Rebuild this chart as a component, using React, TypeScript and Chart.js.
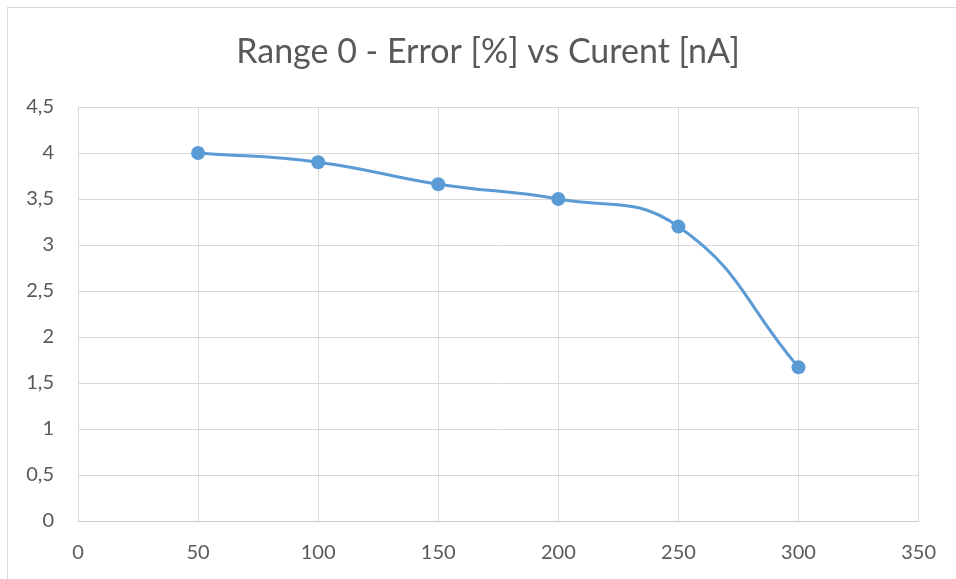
import React, { useEffect, useRef } from "react";
import { Chart, registerables } from "chart.js";

Chart.register(...registerables);

const titleText = "Range 0 - Error [%] vs Curent [nA]";
const currentNA = [50, 100, 150, 200, 250, 300];
const errorPct = [4.0, 3.9, 3.66, 3.5, 3.2, 1.67];
const xTicks = [0, 50, 100, 150, 200, 250, 300, 350];
const yTicks = [0, 0.5, 1, 1.5, 2, 2.5, 3, 3.5, 4, 4.5];

const FONT = "Lato, 'Open Sans', sans-serif";
const TEXT = "#595959";
const GRID = "#d9d9d9";
const BLUE = "#5b9bd5";

export default function App() {
  const ref = useRef<HTMLCanvasElement | null>(null);

  useEffect(() => {
    if (!ref.current) return;
    const chart = new Chart(ref.current, {
      type: "scatter",
      data: {
        datasets: [
          {
            label: "Error",
            data: currentNA.map((x, i) => ({ x, y: errorPct[i] })),
            showLine: true,
            borderColor: BLUE,
            backgroundColor: BLUE,
            borderWidth: 3,
            tension: 0.45,
            pointRadius: 7,
            pointBorderWidth: 0,
            pointBackgroundColor: BLUE,
          },
        ],
      },
      options: {
        responsive: false,
        animation: false,
        devicePixelRatio: 1,
        layout: { padding: { left: 20, right: 0, top: 0, bottom: 0 } },
        plugins: {
          legend: { display: false },
          tooltip: { enabled: false },
          title: {
            display: true,
            text: titleText,
            color: TEXT,
            font: { family: FONT, size: 34, weight: "normal", lineHeight: 1.2 },
            padding: { top: 32, bottom: 34.2 },
          },
        },
        scales: {
          x: {
            type: "linear",
            min: xTicks[0],
            max: xTicks[xTicks.length - 1],
            afterBuildTicks: (s: any) => {
              s.ticks = xTicks.map((v) => ({ value: v }));
            },
            afterFit: (s: any) => {
              s.height = 58;
            },
            ticks: {
              color: TEXT,
              font: { family: FONT, size: 20 },
              padding: 20,
              maxRotation: 0,
              callback: (v: any) => String(v),
            },
            grid: { color: GRID, lineWidth: 1, drawTicks: false },
            border: { display: true, color: "#c9c9c9", width: 1 },
          },
          y: {
            type: "linear",
            min: yTicks[0],
            max: yTicks[yTicks.length - 1],
            afterBuildTicks: (s: any) => {
              s.ticks = yTicks.map((v) => ({ value: v }));
            },
            afterFit: (s: any) => {
              s.width = 58;
            },
            ticks: {
              color: TEXT,
              font: { family: FONT, size: 20 },
              padding: 24,
              callback: (v: any) => String(v).replace(".", ","),
            },
            grid: { color: GRID, lineWidth: 1, drawTicks: false },
            border: { display: false },
          },
          yRight: {
            type: "linear",
            position: "right",
            display: true,
            min: 0,
            max: 1,
            afterFit: (s: any) => {
              s.width = 35;
            },
            ticks: { display: false },
            grid: { display: false, drawTicks: false },
            border: { display: false },
          },
        },
      },
    });
    return () => chart.destroy();
  }, []);

  return (
    <div
      style={{
        position: "fixed",
        left: 0,
        top: 0,
        width: 956,
        height: 579,
        background: "#fff",
        overflow: "hidden",
      }}
    >
      <div
        style={{
          position: "absolute",
          left: 7,
          top: 7,
          width: 2000,
          height: 2000,
          border: "1px solid #d9d9d9",
        }}
      />
      <canvas
        ref={ref}
        width={956}
        height={579}
        style={{ position: "absolute", left: 0, top: 0, width: 956, height: 579 }}
      />
    </div>
  );
}
